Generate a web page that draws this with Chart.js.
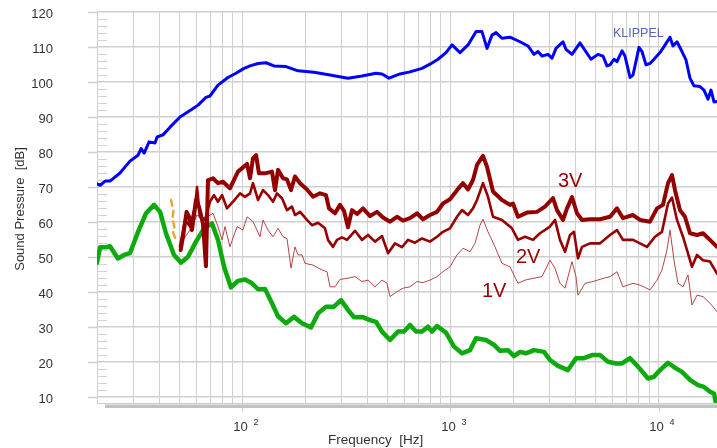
<!DOCTYPE html>
<html>
<head>
<meta charset="utf-8">
<script src="https://cdn.jsdelivr.net/npm/chart.js@4.4.1/dist/chart.umd.min.js"></script>
<style>
html,body{margin:0;padding:0;background:#fff;}
canvas{display:block;}
</style>
</head>
<body>
<canvas id="c" width="717" height="448"></canvas>
<script>
// ---- axis ticks ----
const xGridTicks = [20,30,40,50,60,70,80,90,100,200,300,400,500,600,700,800,900,1000,2000,3000,4000,5000,6000,7000,8000,9000,10000];
const xDecadeTicks = [100,1000,10000];
const xDecadeExp = ['2','3','4'];
const yTicks = [10,20,30,40,50,60,70,80,90,100,110,120];

// ---- fundamental (blue) ----
const blueFreq = [20,20.7,21.9,23.1,25.8,28.8,31.5,32.6,33.7,35.6,38.0,38.9,41.5,44.9,50.1,57.2,61.2,66.8,69.8,76.3,85.2,93.1,101.8,108.8,118.8,129.8,141.8,162,185,220.8,263.6,321.6,375.6,438.6,468.7,506.5,571.9,638.8,729.6,797.1,871,951.6,1017,1111,1214,1327,1417,1498,1583,1655,1768,1932,2158,2358,2520,2634,2753,2942,3076,3215,3474,3592,3838,4193,4736,5118,5409,5653,5844,6108,6315,6674,6899,7294,7540,8057,8328,8705,9098,9510,10164,10624,11353,11736,12267,12965,13552,14165,14806,15823,16539,17288,17873,18475,19100];
const blueDb = [70.9,70.5,71.7,71.7,74.0,77.4,79.1,81.0,79.7,82.9,82.6,84.3,84.9,87.1,90.0,92.2,93.4,95.6,96.0,99.1,101.3,102.5,103.9,104.6,105.3,105.5,104.6,104.4,103.2,102.8,102.0,101.1,101.7,102.5,102.3,101.1,102.3,102.9,103.9,105.1,106.5,108.4,110.6,108.4,110.6,114.4,114.4,109.6,113.4,114.1,112.5,112.8,111.5,110.3,107.9,108.7,107.4,107.9,106.8,109.6,111.5,109.3,107.9,111.2,106.5,107.9,107.4,104.6,104.9,106.5,105.8,108.9,107.4,101.3,102.0,109.9,108.7,104.9,105.3,106.5,108.4,110.1,112.8,110.3,111.5,108.7,106.3,101.1,98.9,98.7,97.7,95.1,97.7,94.3,94.4];

// ---- 3V ----
const v3Freq = [50.5,51.8,53.9,55.4,57.2,59.8,61.8,64.6,66.8,68.3,72.2,76.3,80.7,87.1,95.2,97.4,105.2,108.8,112.4,116.3,120.1,128.4,138.7,143.4,148.3,156.7,163.8,171.2,178.9,189.2,204.3,218.4,236,252.2,260.7,278.6,294.4,307.7,321.6,336.2,355.4,379.8,410.4,443.5,473.9,512.1,553.4,591.2,638.8,690.2,737.7,797.1,861.4,920.5,994.7,1075,1149,1214,1283,1341,1433,1498,1601,1768,1932,1997,2111,2333,2605,2846,3110,3251,3474,3632,3838,4056,4287,4683,5232,5844,6315,6748,7540,8146,9098,9832,10507,11105,11607,11999,12681,13403,14165,15306,16357,17676,19100];
const v3Db = [52.0,55.8,62.9,61.5,57.7,66.3,64.4,59.6,47.4,72.0,72.5,71.1,71.5,69.6,74.4,74.9,76.6,72.5,78.2,79.1,73.9,73.9,74.4,69.1,74.9,72.5,72.2,69.1,73.0,71.1,69.3,67.2,68.2,67.7,63.9,62.5,64.9,63.2,58.5,63.4,62.3,63.9,61.7,62.9,61.3,60.1,61.5,60.4,61.1,62.5,60.8,62.0,62.9,65.3,66.5,69.1,71.1,69.3,72.0,76.3,78.9,75.8,68.7,66.3,64.9,65.3,61.5,62.7,62.9,64.4,66.8,63.4,60.6,63.9,67.1,62.5,60.6,60.8,60.8,61.5,63.9,61.1,62.0,60.6,60.1,63.9,64.9,71.1,73.4,69.1,63.4,61.5,56.8,56.3,56.8,54.9,52.9];

// ---- 2V ----
const v2Freq = [50.1,53.0,56.0,59.2,60.5,62.5,66.1,69.8,73.0,76.3,79.8,84.3,90.1,97.4,102.9,108.8,112.4,118.8,125.6,132.7,140.3,146.6,155,163.8,173.1,178.9,189.2,204.3,215.9,230.8,249.4,257.8,272.5,284.8,301,318.1,347.6,375.6,401.4,433.7,468.7,500.9,541.2,584.7,624.8,675.1,729.6,797.1,861.4,920.5,994.7,1075,1136,1214,1283,1341,1433,1515,1601,1768,1975,2111,2281,2493,2693,3008,3180,3360,3552,3754,3924,4101,4287,4683,5232,5844,6315,6748,7540,8146,8802,9616,10391,11105,11607,12267,13109,14483,15306,16357,17676,19100];
const v2Db = [53.0,60.6,58.7,64.4,70.0,61.5,60.6,65.8,67.7,65.8,67.7,63.9,65.8,68.2,67.2,68.2,71.1,66.3,69.1,67.7,65.8,68.2,66.8,63.4,64.4,62.0,62.9,60.6,59.1,59.8,58.2,54.9,52.9,54.9,55.6,54.9,57.5,54.9,56.3,54.4,56.0,51.1,53.9,52.8,54.9,54.1,55.3,54.4,55.8,57.2,58.2,61.5,63.4,62.0,63.9,66.3,71.1,67.2,61.5,60.6,58.2,54.9,55.8,54.9,56.8,58.7,60.6,54.9,51.5,56.3,57.2,49.6,52.9,53.9,53.9,56.3,57.7,54.9,54.9,53.9,52.9,55.8,57.2,65.3,67.0,60.6,55.8,47.2,50.6,49.1,48.7,45.3];

// ---- 1V ----
const v1Freq = [51.8,56,60.4,66.1,72.2,76.3,79.8,82.5,87.1,94.2,100.6,105.2,112.4,121.5,125.6,132.7,140.3,148.3,156.7,163.8,171.2,178.9,185,193.4,199.8,218.4,241.3,255,263.6,278.6,294.4,318.1,347.6,375.6,401.4,433.7,468.7,495.4,512.1,553.4,591.2,638.8,690.2,737.7,797.1,861.4,920.5,994.7,1075,1149,1241,1312,1387,1433,1515,1637,1768,1932,2111,2281,2493,2753,3008,3180,3360,3552,3838,4011,4101,4432,4842,5409,5844,6315,6748,7540,8146,9098,9832,10391,10982,11353,11867,12404,13109,13855,14483,15306,16357,17676,19100];
const v1Db = [54.9,57.7,62.0,61.1,62.5,58.7,54.9,58.7,52.9,58.7,57.7,61.5,60.1,55.8,60.6,57.7,55.8,58.2,55.8,55.3,46.8,52.9,50.6,50.6,48.2,47.7,46.3,45.8,41.5,41.5,43.6,43.9,44.4,43.0,43.4,41.5,43.4,42.5,38.7,40.1,41.1,41.5,43.0,42.7,43.4,44.4,45.8,47.2,50.6,52.5,51.5,53.9,59.1,60.8,57.2,52.9,48.2,47.2,42.5,43.4,43.9,44.4,49.1,46.8,42.5,41.1,48.7,44.4,39.1,42.5,43.0,43.9,44.4,45.8,41.5,42.5,42.0,40.6,43.4,46.3,52.0,57.7,49.1,42.5,41.5,44.9,36.3,39.1,38.7,36.8,34.4];

// ---- short dashed orange trace ----
const orFreq = [45.4,46.6,46.1,47.1,46.4,47.8];
const orDb = [66.3,63.0,61.0,58.5,57.0,55.0];

// ---- green (noise floor) ----
const greenFreq = [20,20.7,22.1,23.1,25.2,27.0,28.8,31.5,34.4,37.6,40.2,42.9,46.9,50.7,54.8,59.8,65.4,71.4,76.3,81.6,88.1,95.2,102.9,111.2,118.8,128.4,138.7,148.3,162,177,193.4,213.6,230.8,252.2,275.5,297.7,321.6,343.8,375.6,410.4,438.6,468.7,512.1,559.5,597.7,638.8,682.6,729.6,779.7,815,861.4,951.6,1040,1136,1241,1327,1482,1619,1730,1890,2020,2158,2307,2520,2815,3008,3287,3672,4011,4383,4789,5232,5716,6245,6674,7294,7969,8900,9510,10164,11105,12132,12965,14165,15476,16539,17676,18475,19100];
const greenDb = [48.4,52.8,52.8,53.1,49.6,50.6,51.1,57.2,62.5,64.9,62.9,56.8,50.6,48.4,50.1,54.4,58.2,59.6,54.9,47.2,41.3,43.2,43.6,42.5,40.8,40.9,36.8,33.1,31.1,32.9,31.1,29.9,33.9,35.8,35.8,37.7,34.9,32.8,32.9,32.0,31.5,28.7,26.3,28.7,28.7,30.6,28.7,28.7,30.1,28.7,30.3,28.4,24.4,22.5,23.4,26.8,26.3,24.9,23.2,23.4,21.7,22.9,22.5,23.4,22.9,20.6,18.9,17.7,21.1,21.1,22.0,22.0,20.1,19.6,19.6,21.1,18.7,15.3,15.8,17.7,19.8,18.2,17.2,14.9,13.4,12.9,11.5,11.0,6.9];

const pts = (f, d) => f.map((v, i) => ({x: v, y: d[i]}));

const FONT = '"Liberation Sans", Arial, Helvetica, sans-serif';

const decor = {
  id: 'decor',
  beforeDatasetsDraw(chart) {
    const ctx = chart.ctx, xs = chart.scales.x, ys = chart.scales.y, a = chart.chartArea;
    ctx.save();
    ctx.strokeStyle = '#cfcfcf';
    // left extension of horizontal grid
    ctx.lineWidth = 1.5;
    yTicks.forEach(v => {
      const y = Math.round(ys.getPixelForValue(v)) + 0.5;
      ctx.beginPath(); ctx.moveTo(88, y); ctx.lineTo(a.left, y); ctx.stroke();
    });
    // minor ticks every 2 dB on the left
    ctx.lineWidth = 1;
    ctx.strokeStyle = '#d4d4d4';
    for (let v = 12; v < 120; v += 2) {
      if (v % 10 === 0) continue;
      const y = Math.round(ys.getPixelForValue(v)) + 0.5;
      ctx.beginPath(); ctx.moveTo(a.left, y); ctx.lineTo(a.left + 10, y); ctx.stroke();
    }
    // decade ticks extend below
    ctx.strokeStyle = '#cfcfcf';
    xDecadeTicks.forEach(v => {
      const x = Math.round(xs.getPixelForValue(v)) + 0.5;
      ctx.beginPath(); ctx.moveTo(x, a.bottom); ctx.lineTo(x, a.bottom + 9); ctx.stroke();
    });
    // bottom axis line and gray bar
    ctx.strokeStyle = '#cccccc';
    ctx.beginPath(); ctx.moveTo(a.left, a.bottom + 0.5); ctx.lineTo(a.right, a.bottom + 0.5); ctx.stroke();
    ctx.fillStyle = '#c2c2c2';
    ctx.fillRect(105, a.bottom + 1.5, a.right - 105, 3.5);
    ctx.restore();
  },
  afterDraw(chart) {
    const ctx = chart.ctx, xs = chart.scales.x, ys = chart.scales.y;
    ctx.save();
    ctx.fillStyle = '#333';
    ctx.font = '13px ' + FONT;
    ctx.textAlign = 'right';
    ctx.textBaseline = 'middle';
    yTicks.forEach(v => ctx.fillText(String(v), 53, ys.getPixelForValue(v) + 2));
    // x decade labels
    xDecadeTicks.forEach((v, i) => {
      const x = xs.getPixelForValue(v);
      ctx.font = '13px ' + FONT;
      ctx.textAlign = 'center';
      ctx.textBaseline = 'alphabetic';
      ctx.fillText('10', x - 2, 431);
      ctx.font = '9px ' + FONT;
      ctx.fillText(xDecadeExp[i], x + 13.5, 425);
    });
    ctx.font = '13.5px ' + FONT;
    ctx.textAlign = 'left';
    ctx.fillText('Frequency  [Hz]', 328, 444);
    // y title
    ctx.save();
    ctx.translate(24, 209);
    ctx.rotate(-Math.PI / 2);
    ctx.textAlign = 'center';
    ctx.font = '13px ' + FONT;
    ctx.fillText('Sound Pressure  [dB]', 0, 0);
    ctx.restore();
    // annotations
    ctx.textAlign = 'left';
    ctx.fillStyle = '#5565b5';
    ctx.font = '12.5px ' + FONT;
    ctx.fillText('KLIPPEL', 613, 36.5);
    ctx.fillStyle = '#990000';
    ctx.font = '20px ' + FONT;
    ctx.fillText('3V', 558, 187);
    ctx.fillText('2V', 516, 263);
    ctx.fillText('1V', 482, 297);
    ctx.restore();
  }
};

new Chart(document.getElementById('c'), {
  type: 'scatter',
  data: {
    datasets: [
      {data: pts(blueFreq, blueDb), borderColor: '#0000ff', borderWidth: 3},
      {data: pts(v3Freq, v3Db), borderColor: '#930000', borderWidth: 4},
      {data: pts(v2Freq, v2Db), borderColor: '#960000', borderWidth: 2.6},
      {data: pts(v1Freq, v1Db), borderColor: '#b44545', borderWidth: 1},
      {data: pts(orFreq, orDb), borderColor: '#e8a83a', borderWidth: 2.5, borderDash: [6, 5]},
      {data: pts(greenFreq, greenDb), borderColor: '#0caa0c', borderWidth: 4.5}
    ].map(d => Object.assign({showLine: true, pointRadius: 0, pointHoverRadius: 0, tension: 0, fill: false, borderJoinStyle: 'round', borderCapStyle: 'round'}, d))
  },
  options: {
    responsive: false,
    animation: false,
    devicePixelRatio: 1,
    layout: {padding: {left: 97, right: 0, top: 12, bottom: 45}},
    plugins: {legend: {display: false}, tooltip: {enabled: false}},
    scales: {
      x: {
        type: 'logarithmic', min: 20, max: 19100,
        afterBuildTicks: s => { s.ticks = xGridTicks.map(v => ({value: v})); },
        ticks: {display: false},
        grid: {color: '#d0d0d0', lineWidth: 1, drawTicks: false},
        border: {display: false}
      },
      y: {
        type: 'linear', min: 8.3, max: 120,
        afterBuildTicks: s => { s.ticks = yTicks.map(v => ({value: v})); },
        ticks: {display: false},
        grid: {color: '#cfcfcf', lineWidth: 1.5, drawTicks: false},
        border: {display: false}
      }
    }
  },
  plugins: [decor]
});
</script>
</body>
</html>
